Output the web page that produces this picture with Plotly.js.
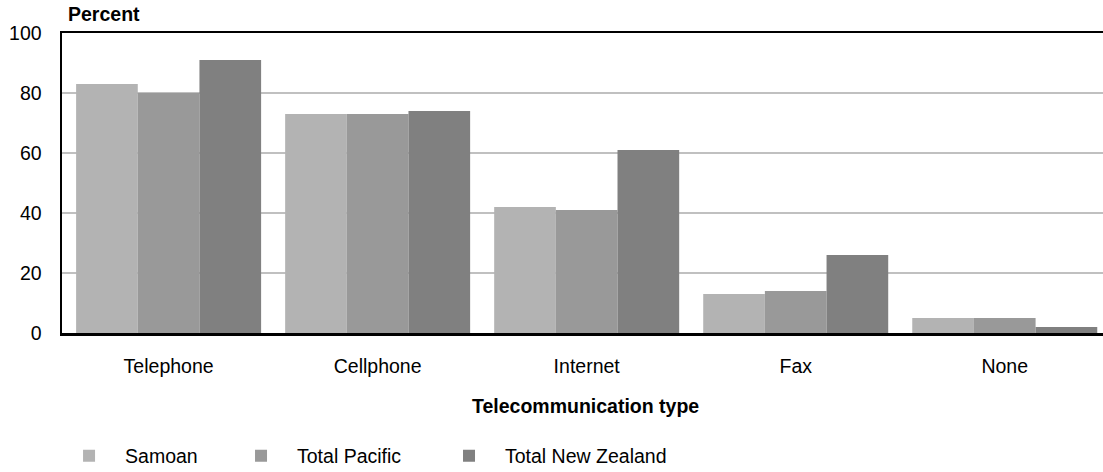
<!DOCTYPE html>
<html>
<head>
<meta charset="utf-8">
<script src="https://cdn.plot.ly/plotly-3.0.1.min.js"></script>
<style>
  html, body { margin: 0; padding: 0; background: #ffffff; overflow: hidden; }
  #chart { width: 1103px; height: 472px; }
</style>
</head>
<body>
<div id="chart"></div>
<script>
// Household access to telecommunications, by group (percent)
const categories = ['Telephone', 'Cellphone', 'Internet', 'Fax', 'None'];
const samoan = [83, 73, 42, 13, 5];
const totalPacific = [80, 73, 41, 14, 5];
const totalNZ = [91, 74, 61, 26, 2];

const seriesNames = ['Samoan', 'Total Pacific', 'Total New Zealand'];
const seriesValues = [samoan, totalPacific, totalNZ];
const seriesColors = ['#b3b3b3', '#999999', '#808080'];
const legendIds = ['legend', 'legend2', 'legend3'];

const yTickValues = [0, 20, 40, 60, 80, 100];

const FONT = 'Arial, "Liberation Sans", sans-serif';
const FS = 19.5;

const traces = seriesNames.map((name, i) => ({
  type: 'bar',
  name: name,
  x: categories,
  y: seriesValues[i],
  marker: { color: seriesColors[i], line: { width: 0 } },
  legend: legendIds[i],
  hoverinfo: 'x+y+name'
}));

// one legend per series so each entry can sit at its own spot
const legendX = [-0.0086, 0.1566, 0.3564];
function legendFor(i) {
  return {
    orientation: 'h',
    x: legendX[i],
    xanchor: 'left',
    yref: 'container',
    y: 1 - 456 / 472,
    yanchor: 'middle',
    itemwidth: 62,
    font: { family: FONT, size: FS, color: '#000000' },
    bgcolor: 'rgba(0,0,0,0)',
    borderwidth: 0
  };
}

const layout = {
  width: 1103,
  height: 472,
  margin: { l: 62, r: 0, t: 33, b: 139, pad: 0 },
  paper_bgcolor: '#ffffff',
  plot_bgcolor: '#ffffff',
  font: { family: FONT, size: FS, color: '#000000' },
  barmode: 'group',
  bargap: 0.115,
  bargroupgap: 0,
  showlegend: true,
  legend: legendFor(0),
  legend2: legendFor(1),
  legend3: legendFor(2),
  title: {
    text: 'Percent',
    xref: 'container',
    x: 68 / 1103,
    xanchor: 'left',
    yref: 'container',
    y: 1 - 14 / 472,
    yanchor: 'middle',
    font: { family: FONT, size: FS, color: '#000000', weight: 'bold' }
  },
  xaxis: {
    type: 'category',
    range: [-0.51, 4.47],
    showgrid: false,
    zeroline: false,
    showline: true,
    linecolor: '#000000',
    linewidth: 2.5,
    mirror: true,
    ticks: '',
    ticklabelstandoff: 14,
    tickfont: { family: FONT, size: FS, color: '#000000' },
    fixedrange: true
  },
  yaxis: {
    range: [0, 100],
    tickvals: yTickValues,
    ticktext: yTickValues.map(String),
    showgrid: true,
    gridcolor: '#c0c0c0',
    gridwidth: 1.5,
    zeroline: false,
    showline: true,
    linecolor: '#000000',
    linewidth: 2.5,
    ticks: '',
    ticklabelstandoff: 14,
    tickfont: { family: FONT, size: FS, color: '#000000' },
    fixedrange: true
  },
  annotations: [{
    text: '<b>Telecommunication type</b>',
    xref: 'paper',
    x: (585 - 62) / 1041,
    xanchor: 'center',
    yref: 'paper',
    y: (333 - 406) / 300,
    yanchor: 'middle',
    showarrow: false,
    font: { family: FONT, size: FS, color: '#000000' }
  }]
};

Plotly.newPlot('chart', traces, layout, { displayModeBar: false, staticPlot: true });
</script>
</body>
</html>
